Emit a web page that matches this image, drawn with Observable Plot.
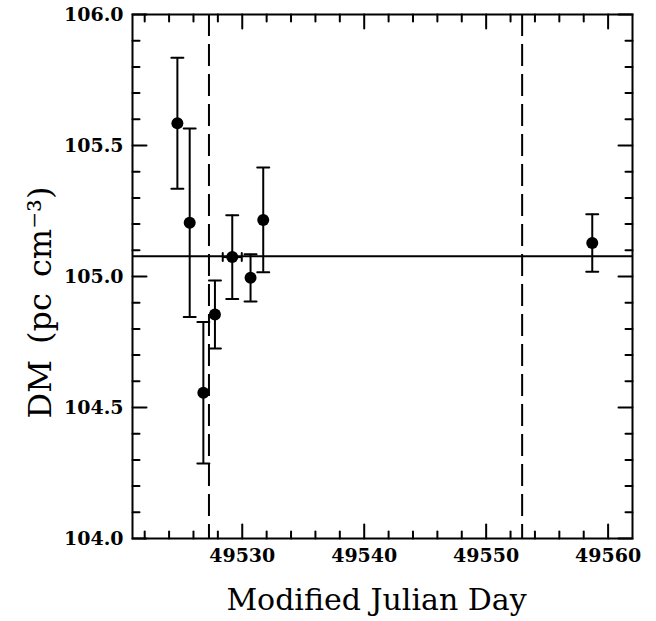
<!DOCTYPE html>
<html><head><meta charset="utf-8">
<script src="https://cdn.jsdelivr.net/npm/d3@7"></script>
<script src="https://cdn.jsdelivr.net/npm/@observablehq/plot@0.6"></script>
<style>body{margin:0;background:#fff;}</style>
</head><body><div id="chart"></div>
<script>
// Data
const mjd    = [49524.68, 49525.69, 49526.81, 49527.76, 49529.18, 49530.68, 49531.72, 49558.70];
const dm     = [105.585, 105.205, 104.556, 104.855, 105.074, 104.995, 105.216, 105.128];
const dmErr  = [0.25, 0.36, 0.27, 0.13, 0.16, 0.09, 0.20, 0.11];
const mjdErr = [0, 0, 0, 0, 0.78, 0, 0, 0];
const fitDM = [105.077];
const dashMJD = [49527.27, 49552.95];

const xMajor = [49530, 49540, 49550, 49560];
const xMinor = [49522, 49524, 49526, 49528, 49532, 49534, 49536, 49538, 49542, 49544, 49546, 49548, 49552, 49554, 49556, 49558];
const yMajor = [104.0, 104.5, 105.0, 105.5, 106.0];
const yMinor = [104.1, 104.2, 104.3, 104.4, 104.6, 104.7, 104.8, 104.9, 105.1, 105.2, 105.3, 105.4, 105.6, 105.7, 105.8, 105.9];
const xTitle = "Modified Julian Day";
const yTitle = "DM\u2002(pc\u2002cm\u207B\u00B3)";

const data = mjd.map((x, i) => ({x, y: dm[i], e: dmErr[i], xe: mjdErr[i]}));
const xErrData = data.filter(d => d.xe > 0);

const vLine = {draw(c, l) { c.moveTo(0, 0); c.lineTo(0, -l); }};
const hCap  = {draw(c, l) { c.moveTo(-l / 2, 0); c.lineTo(l / 2, 0); }};
const vCap  = {draw(c, l) { c.moveTo(0, -l / 2); c.lineTo(0, l / 2); }};
const FONT = "DejaVu Serif";
const tk = (arr, frameAnchor, rotate, length, isX) =>
  (isX ? Plot.vectorX : Plot.vectorY)(arr, {frameAnchor, rotate, length, shape: vLine, anchor: "start", stroke: "black", strokeWidth: 2});

const chart = Plot.plot({
  width: 656, height: 621,
  marginLeft: 132, marginRight: 24, marginTop: 14, marginBottom: 83,
  style: {fontFamily: FONT, background: "white", color: "black"},
  x: {domain: [49521, 49562]},
  y: {domain: [104, 106]},
  marks: [
    Plot.ruleX(dashMJD, {stroke: "black", strokeWidth: 2, strokeDasharray: "22,8"}),
    Plot.ruleY(fitDM, {stroke: "black", strokeWidth: 2}),
    Plot.ruleX(data, {x: "x", y1: d => d.y - d.e, y2: d => d.y + d.e, stroke: "black", strokeWidth: 2}),
    Plot.vector(data, {x: "x", y: d => d.y - d.e, length: 12, shape: hCap, anchor: "start", stroke: "black", strokeWidth: 2}),
    Plot.vector(data, {x: "x", y: d => d.y + d.e, length: 12, shape: hCap, anchor: "start", stroke: "black", strokeWidth: 2}),
    Plot.ruleY(xErrData, {y: "y", x1: d => d.x - d.xe, x2: d => d.x + d.xe, stroke: "black", strokeWidth: 2}),
    Plot.vector(xErrData, {x: d => d.x - d.xe, y: "y", length: 8, shape: vCap, anchor: "start", stroke: "black", strokeWidth: 2}),
    Plot.vector(xErrData, {x: d => d.x + d.xe, y: "y", length: 8, shape: vCap, anchor: "start", stroke: "black", strokeWidth: 2}),
    Plot.dot(data, {x: "x", y: "y", r: 6, fill: "black"}),
    tk(xMajor, "bottom", 0, 14, true), tk(xMinor, "bottom", 0, 7, true),
    tk(xMajor, "top", 180, 14, true), tk(xMinor, "top", 180, 7, true),
    tk(yMajor, "left", 90, 14, false), tk(yMinor, "left", 90, 7, false),
    tk(yMajor, "right", -90, 14, false), tk(yMinor, "right", -90, 7, false),
    Plot.frame({stroke: "black", strokeWidth: 2}),
    Plot.axisX(xMajor, {anchor: "bottom", tickSize: 0, tickPadding: 10, fontSize: 19, fontWeight: "bold", label: null, tickFormat: d => String(d)}),
    Plot.axisY(yMajor, {anchor: "left", tickSize: 0, tickPadding: 9, fontSize: 19, fontWeight: "bold", label: null, tickFormat: d => d.toFixed(1)}),
    Plot.text([xTitle], {frameAnchor: "bottom", dx: -6, dy: 71, fontSize: 30, letterSpacing: "3.4px", fill: "black"}),
    Plot.text([yTitle], {frameAnchor: "left", textAnchor: "middle", rotate: -90, dx: -92, dy: 26, fontSize: 32, letterSpacing: "3px", fill: "black"})
  ]
});
document.getElementById("chart").appendChild(chart);
</script>
</body></html>
